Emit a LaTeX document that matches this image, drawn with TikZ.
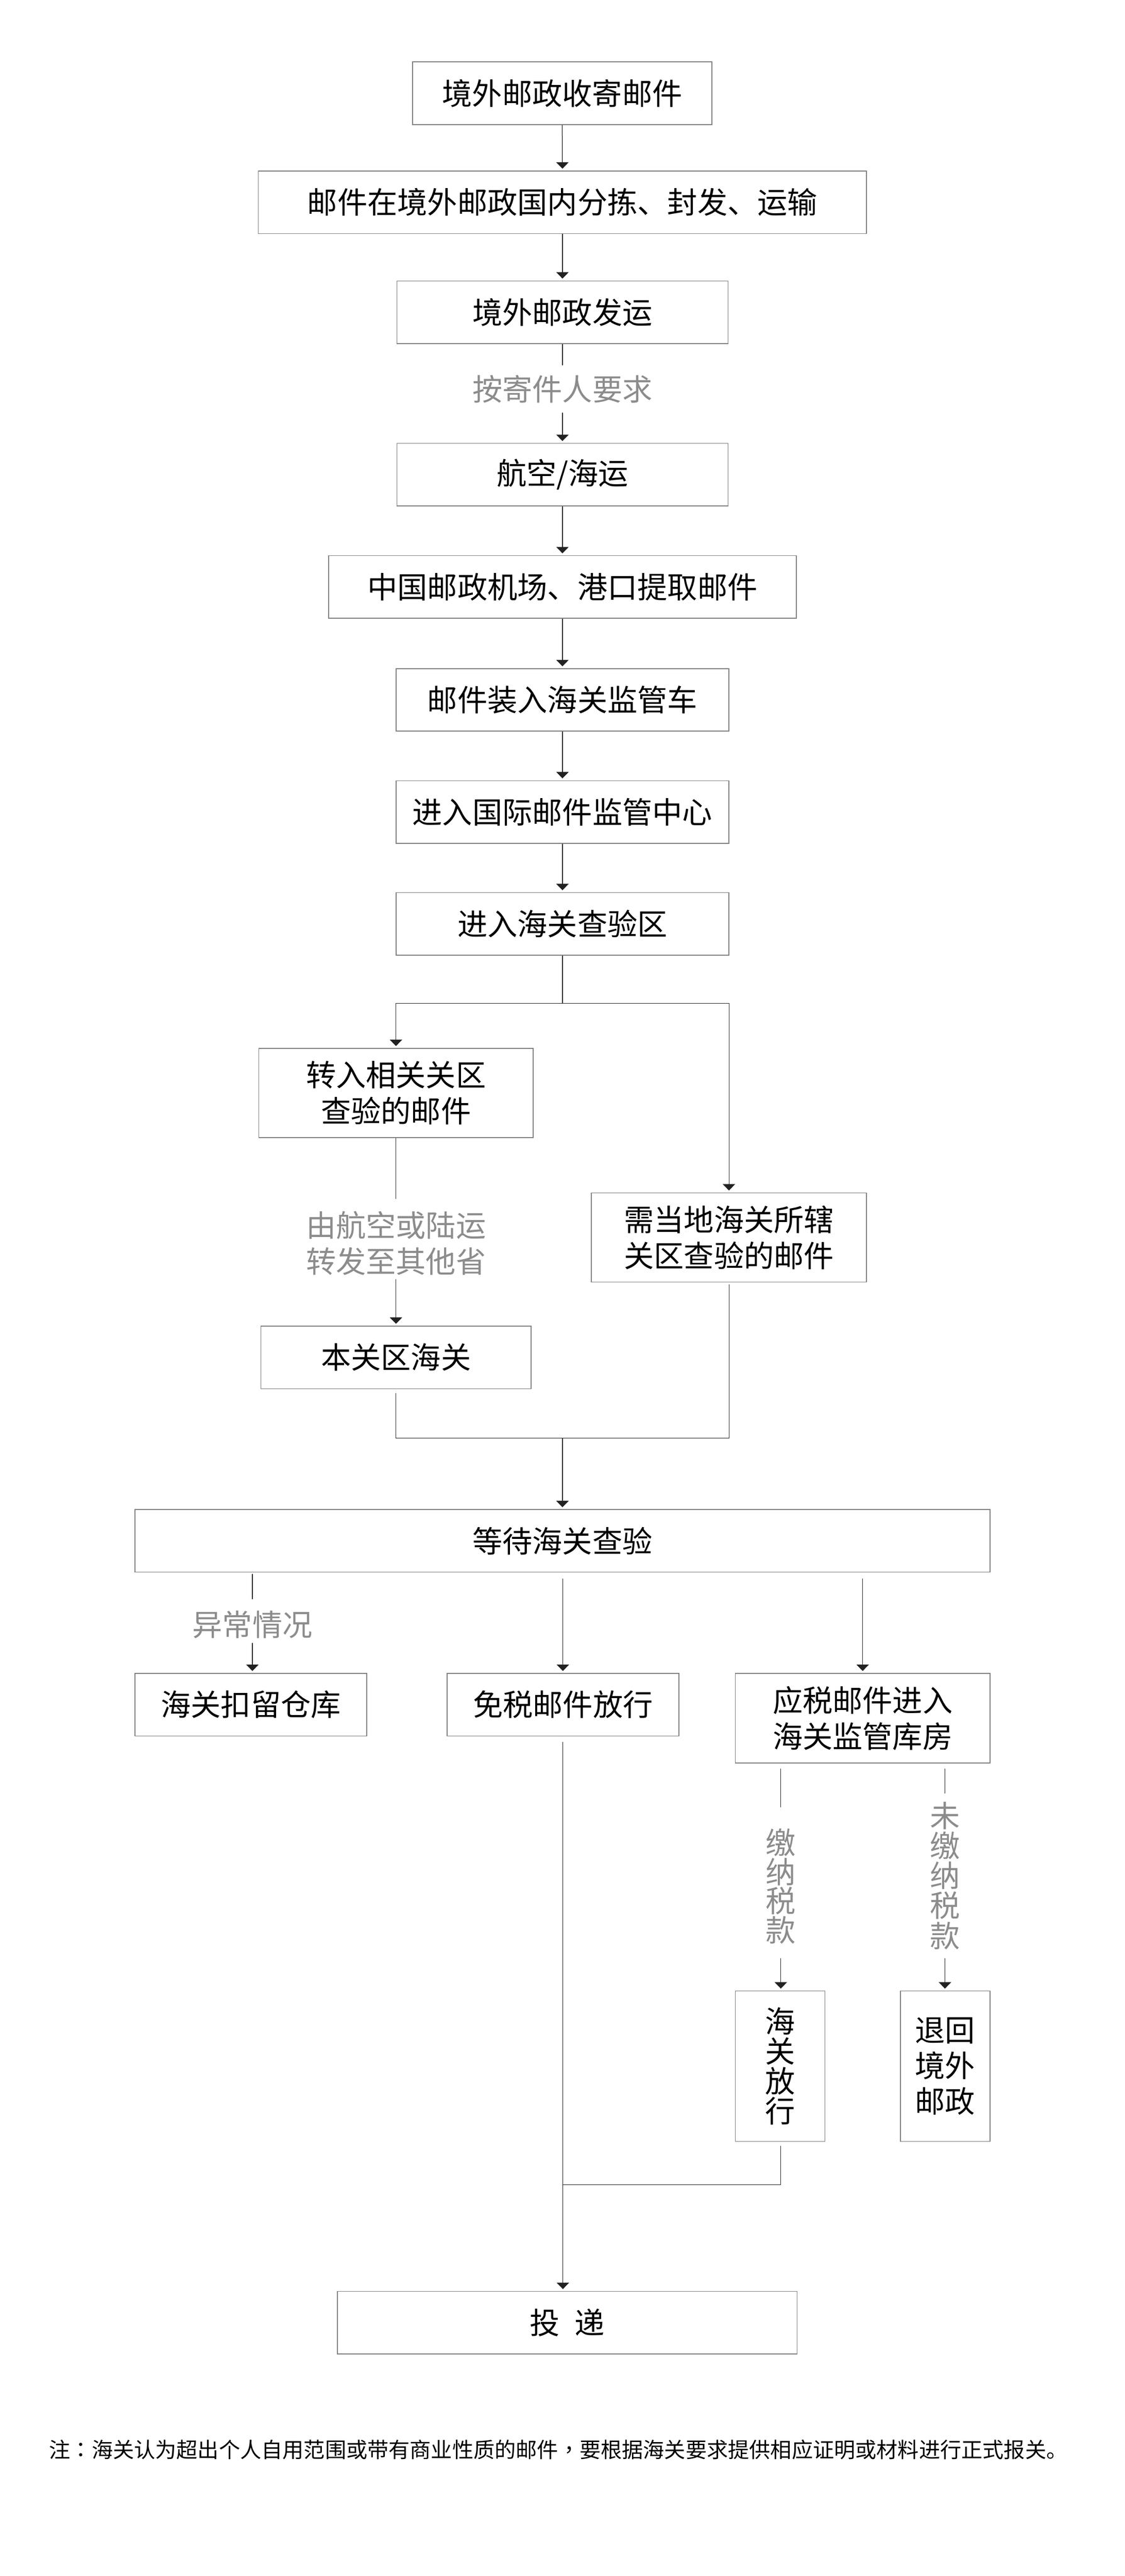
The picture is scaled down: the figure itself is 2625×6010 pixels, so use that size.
\documentclass[tikz,border=0pt]{standalone}
\usepackage{fontspec}
\newfontfamily\cjk{Noto Sans CJK SC}
\newfontfamily\cjktc{Noto Sans CJK TC}
\usetikzlibrary{arrows.meta}
\definecolor{boxgrey}{HTML}{7F7F7F}
\definecolor{linegrey}{HTML}{222222}
\definecolor{labgrey}{HTML}{8C8C8C}
\tikzset{
  box/.style={draw=boxgrey, line width=0.4pt, fill=white, inner sep=0pt, align=center,
              font=\cjk\fontsize{14}{16.8}\selectfont, text=black},
  lab/.style={inner sep=0pt, align=center, font=\cjk\fontsize{14}{16.8}\selectfont, text=labgrey},
  conn/.style={draw=linegrey, line width=0.3pt},
  arr/.style={conn, -{Triangle[width=5.8pt,length=3pt]}, shorten >=0.9pt},
  onebox/.style={box, minimum height=29.2pt},
  twobox/.style={box, minimum height=41.6pt},
  vbox/.style={box, minimum width=41.8pt, minimum height=70.2pt}
}
\begin{document}
\begin{tikzpicture}[x=0.2pt,y=-0.2pt]
\useasboundingbox (0,0) rectangle (2625,6010);
\fill[white] (0,0) rectangle (2625,6010);

% main chain
\node[onebox, minimum width=139.6pt] (b1) at (1312,217.5) {境外邮政收寄邮件};
\node[onebox, minimum width=283.8pt] (b2) at (1312.5,472) {邮件在境外邮政国内分拣、封发、运输};
\node[onebox, minimum width=154.6pt] (b3) at (1312.5,728.5) {境外邮政发运};
\node[lab] (l1) at (1312.5,908) {按寄件人要求};
\node[onebox, minimum width=154.6pt] (b4) at (1312.5,1107.5) {航空/海运};
\node[onebox, minimum width=218.2pt] (b5) at (1312.5,1369.5) {中国邮政机场、港口提取邮件};
\node[onebox, minimum width=155.4pt] (b6) at (1312.5,1633) {邮件装入海关监管车};
\node[onebox, minimum width=155.4pt] (b7) at (1312.5,1894.5) {进入国际邮件监管中心};
\node[onebox, minimum width=155.4pt] (b8) at (1312.5,2155.5) {进入海关查验区};

% branch
\node[twobox, minimum width=128pt] (b9) at (924,2550) {转入相关关区\\查验的邮件};
\node[lab] (l2) at (924,2901) {由航空或陆运\\转发至其他省};
\node[onebox, minimum width=126pt] (b10) at (924,3167) {本关区海关};
\node[twobox, minimum width=128.4pt] (b11) at (1701,2887) {需当地海关所辖\\关区查验的邮件};

\node[onebox, minimum width=399pt] (b12) at (1312.5,3595) {等待海关查验};
\node[lab] (l3) at (589,3790) {异常情况};
\node[onebox, minimum width=108.2pt] (b13) at (585.5,3977) {海关扣留仓库};
\node[onebox, minimum width=108.2pt] (b14) at (1313.5,3977) {免税邮件放行};
\node[box, minimum width=118.8pt, minimum height=41.8pt] (b15) at (2013,4008.5) {应税邮件进入\\海关监管库房};

\node[lab, font=\cjk\fontsize{14}{13.6}\selectfont] (l4) at (1822,4401) {缴\\纳\\税\\款};
\node[lab, font=\cjk\fontsize{14}{14}\selectfont] (l5) at (2205,4376) {未\\缴\\纳\\税\\款};
\node[vbox, font=\cjk\fontsize{14}{14}\selectfont] (b16) at (1820.5,4820.5) {海\\关\\放\\行};
\node[vbox, font=\cjk\fontsize{14}{16.6}\selectfont] (b17) at (2205.5,4820.5) {退回\\境外\\邮政};

\node[onebox, minimum width=214.6pt] (b18) at (1323.5,5419) {投\hspace{0.5em}递};

\node[anchor=west, inner sep=0pt, font=\cjk\fontsize{9.9}{12}\selectfont] (note) at (114,5715)
  {注{\cjktc ：}海关认为超出个人自用范围或带有商业性质的邮件{\cjktc ，}要根据海关要求提供相应证明或材料进行正式报关。};

% coordinates
\coordinate (sp) at (1312.5,2341);
\coordinate (mg) at (1312.5,3355);
\coordinate (jn) at (1313,5097);

% connectors
\draw[arr] (b1.south) -- (b2.north);
\draw[arr] (b2.south) -- (b3.north);
\draw[conn] (b3.south) -- ([yshift=11.2pt]l1.center);
\draw[arr] ([yshift=-11pt]l1.center) -- (b4.north);
\draw[arr] (b4.south) -- (b5.north);
\draw[arr] (b5.south) -- (b6.north);
\draw[arr] (b6.south) -- (b7.north);
\draw[arr] (b7.south) -- (b8.north);

\draw[conn] (b8.south) -- (sp);
\draw[arr] (sp) -| (b9.north);
\draw[arr] (sp) -| (b11.north);

\draw[conn] (b9.south) -- ([yshift=20.8pt]l2.center);
\draw[arr] ([yshift=-16.8pt]l2.center) -- (b10.north);

\draw[conn] ([yshift=-1.8pt]b10.south) -- (b10.south |- mg) -- (b11.south |- mg) -- ([yshift=-1pt]b11.south);
\draw[arr] (mg) -- (b12.north);

\draw[conn] ([yshift=-0.6pt]b12.south -| l3.center) -- ([yshift=11.8pt]l3.center);
\draw[arr] ([yshift=-8.6pt]l3.center) -- (l3.center |- b13.north);
\draw[arr] ([yshift=-2.8pt]b12.south -| b14.north) -- (b14.north);
\draw[arr] ([yshift=-2.8pt]b12.south -| b15.north) -- (b15.north);

\draw[conn] ([yshift=-2.6pt]b15.south -| l4.center) -- ([yshift=36.8pt]l4.center);
\draw[arr] ([yshift=-33.6pt]l4.center) -- (l4.center |- b16.north);
\draw[conn] ([yshift=-2.6pt]b15.south -| l5.center) -- ([yshift=38.4pt]l5.center);
\draw[arr] ([yshift=-38.6pt]l5.center) -- (l5.center |- b17.north);

\draw[conn] ([yshift=-1.8pt]b16.south -| l4.center) -- (l4.center |- jn) -- (jn);
\draw[arr] ([yshift=-2.6pt]b14.south) -- (b14.south |- b18.north);
\end{tikzpicture}
\end{document}
